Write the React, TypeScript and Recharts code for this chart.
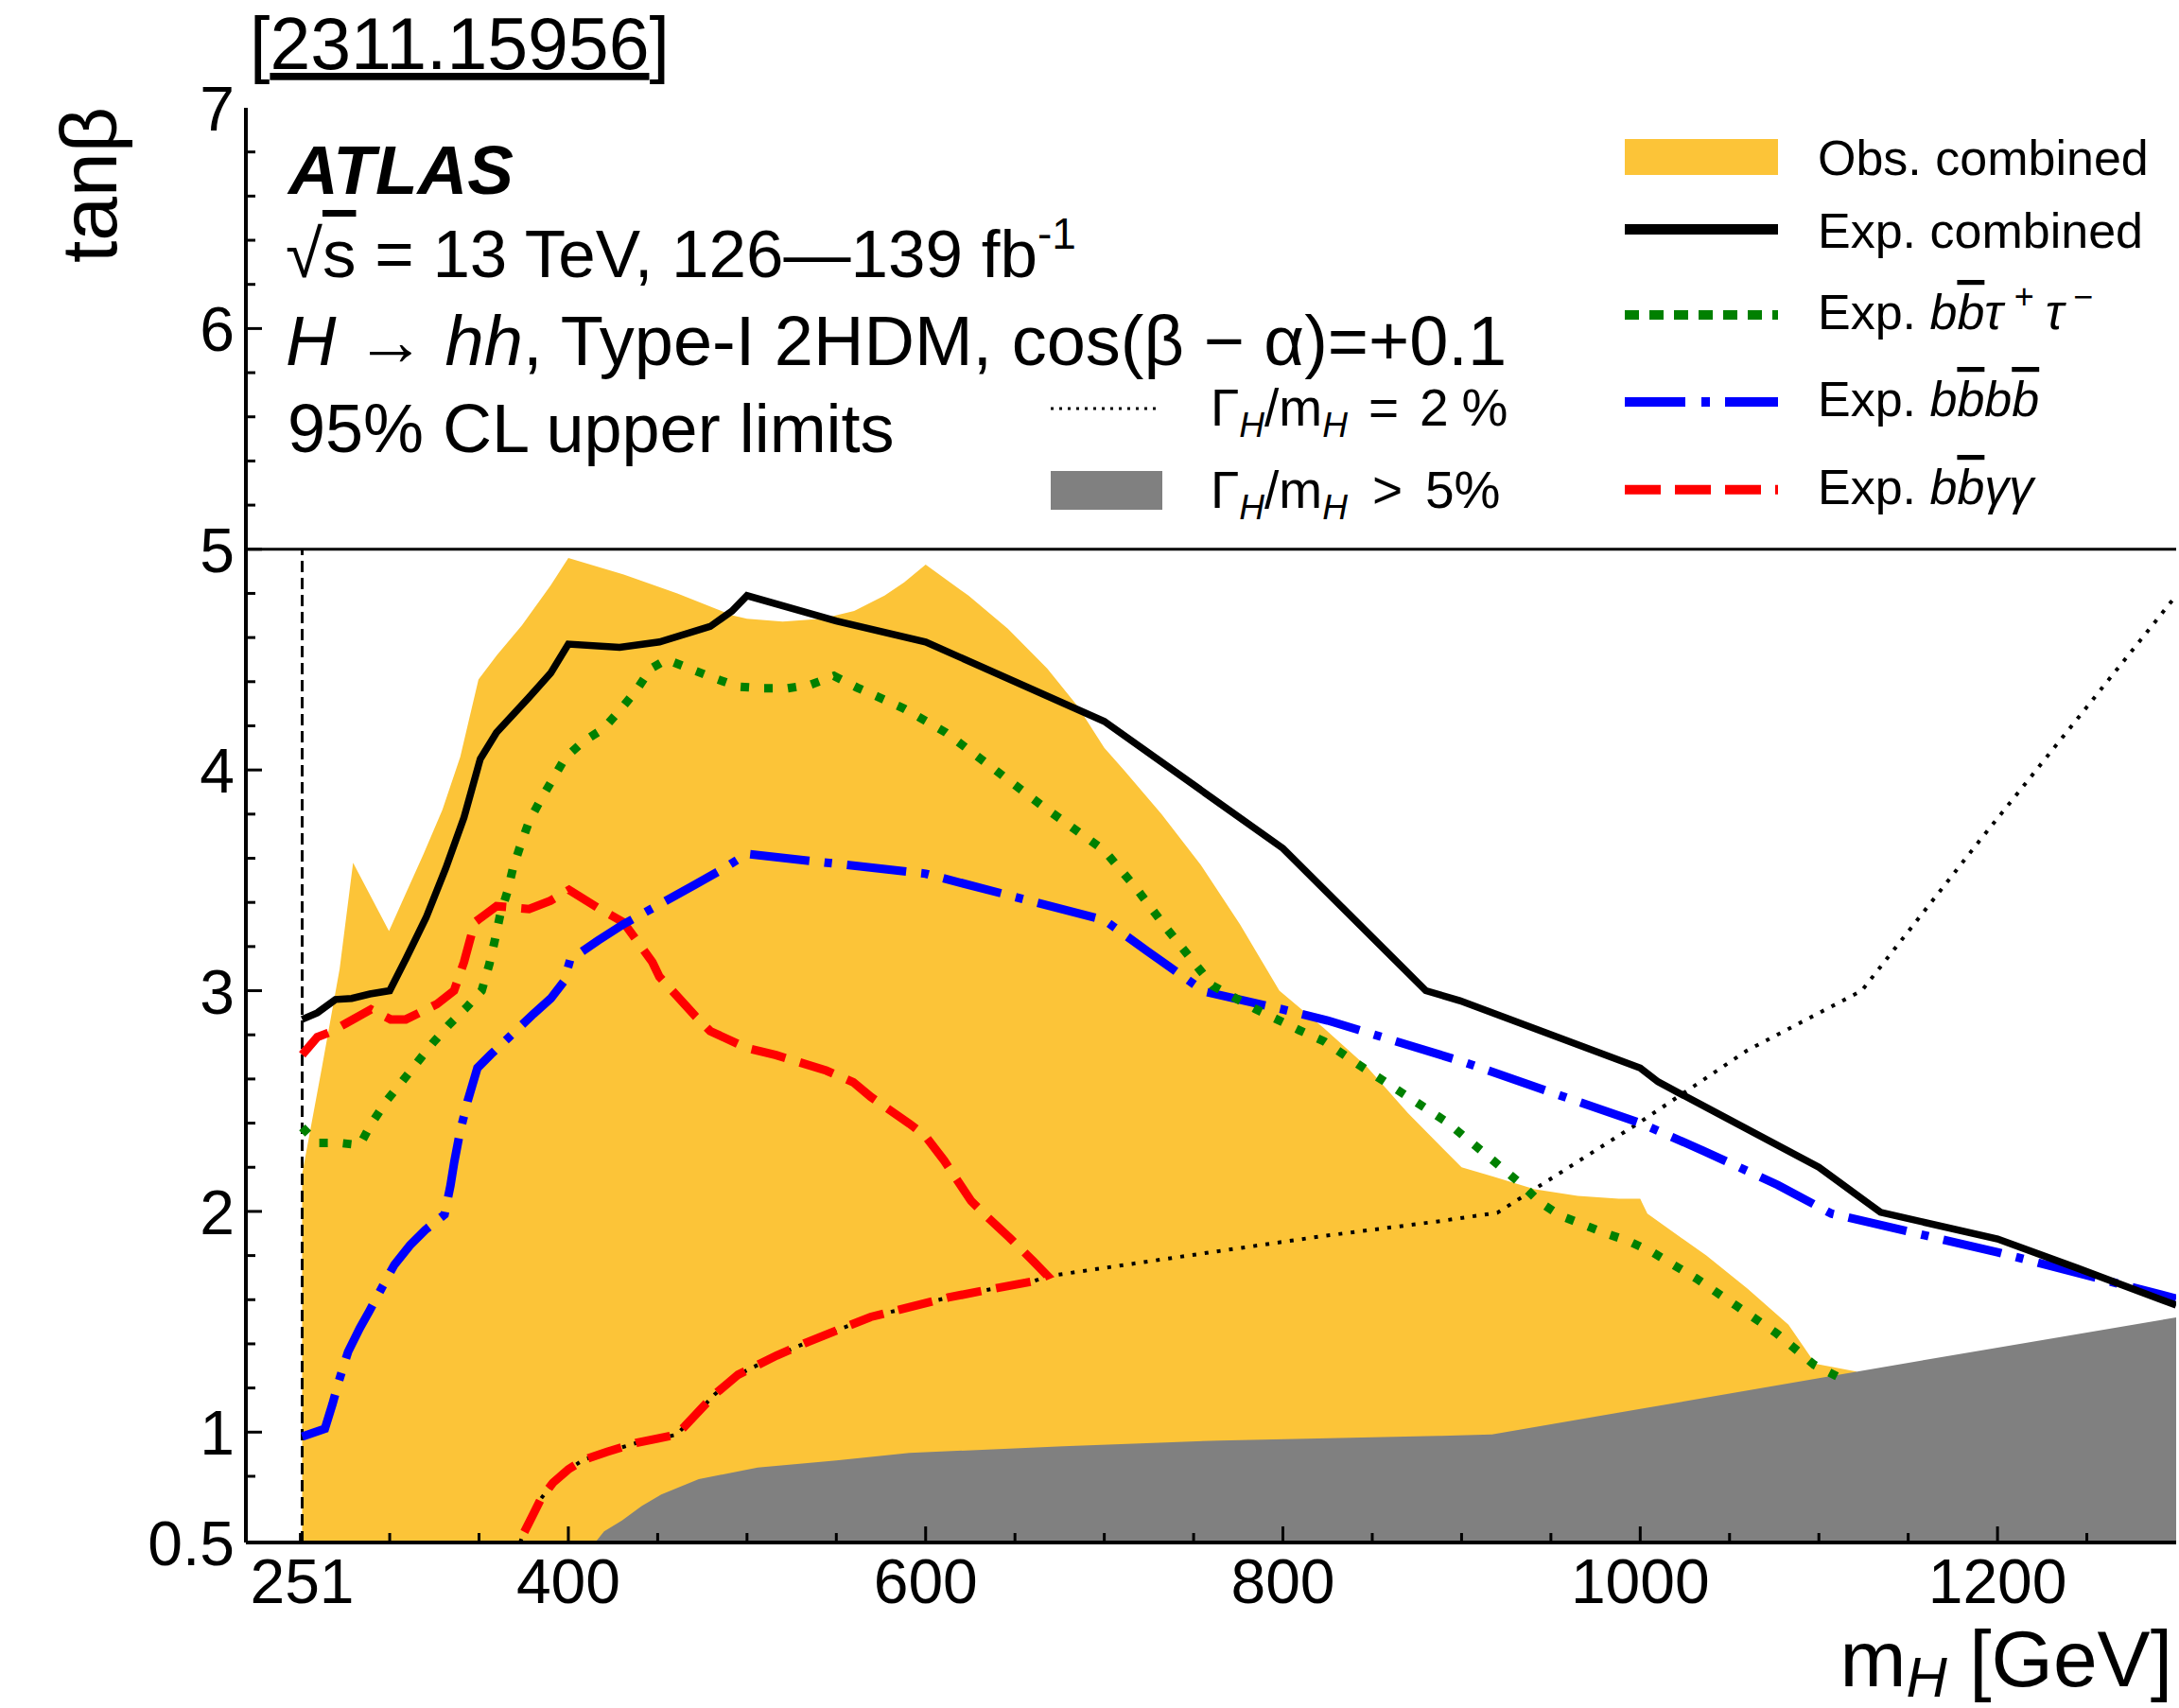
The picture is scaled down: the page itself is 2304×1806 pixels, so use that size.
import { ComposedChart, Area, Line, XAxis, YAxis, ReferenceLine } from "recharts";

const W = 2304;
const H = 1806;
const FONT = '"Liberation Sans", Arial, Helvetica, sans-serif';

const OBS_COLOR = "#fcc438";
const GRAY = "#808080";

// axis ticks
const xLabelTicks = [251, 400, 600, 800, 1000, 1200];
const xMajorTicks = [400, 600, 800, 1000, 1200];
const xMinorTicks = [250, 300, 350, 450, 500, 550, 650, 700, 750, 850, 900, 950, 1050, 1100, 1150, 1250];
const yLabelTicks = [0.5, 1, 2, 3, 4, 5, 6, 7];
const yMajorTicks = [1, 2, 3, 4, 5, 6];
const yMinorTicks = [0.8, 1.2, 1.4, 1.6, 1.8, 2.2, 2.4, 2.6, 2.8, 3.2, 3.4, 3.6, 3.8, 4.2, 4.4, 4.6, 4.8, 5.2, 5.4, 5.6, 5.8, 6.2, 6.4, 6.6, 6.8];

// [mH (GeV), tanβ]
const obsCombined = [
  [251, 2.17], [262, 2.65], [272, 3.1], [279.5, 3.58], [299.6, 3.27], [309, 3.44], [319, 3.62], [329.5, 3.82],
  [339.5, 4.06], [349.7, 4.41], [360, 4.52], [374, 4.655], [390, 4.835], [400, 4.96], [431, 4.885], [461, 4.8],
  [492, 4.7], [500, 4.685], [520, 4.672], [542, 4.685], [560, 4.72], [577, 4.79], [588, 4.85], [600, 4.93],
  [624, 4.79], [646, 4.64], [668, 4.46], [685, 4.29], [700, 4.1], [711, 4.0], [732, 3.8], [754, 3.57], [776, 3.3],
  [798, 3.0], [823, 2.83], [847, 2.655], [870, 2.445], [900, 2.2], [918, 2.157], [941, 2.1], [965, 2.07],
  [988, 2.057], [1000, 2.057], [1004, 1.99], [1037, 1.8], [1060, 1.65], [1083, 1.487], [1098, 1.31], [1121, 1.275],
];

const wideWidth = [
  [415, 0.5], [420, 0.55], [430, 0.6], [441, 0.665], [452, 0.717], [473, 0.787], [506, 0.84], [550, 0.872],
  [591, 0.906], [677, 0.936], [764, 0.962], [887, 0.983], [917, 0.99], [1000, 1.105], [1100, 1.245],
  [1200, 1.383], [1300, 1.52],
];

const expCombined = [
  [251, 2.87], [259.5, 2.9], [269.6, 2.96], [278.7, 2.965], [288.9, 2.985], [300, 3.0], [309.1, 3.145],
  [320.3, 3.33], [331.4, 3.555], [341.6, 3.785], [350.7, 4.05], [359.8, 4.17], [378.1, 4.33], [390.2, 4.44],
  [400, 4.57], [428.7, 4.556], [451, 4.58], [479.4, 4.65], [491.6, 4.72], [500, 4.79], [550, 4.675],
  [600, 4.58], [700, 4.22], [800, 3.645], [880, 3.0], [899, 2.955], [1000, 2.65], [1010, 2.587],
  [1100, 2.2], [1134.5, 1.996], [1200, 1.875], [1245, 1.742], [1300, 1.575],
];

const expBbTauTau = [
  [251, 2.38], [259.4, 2.31], [272.4, 2.31], [283.2, 2.3], [289.7, 2.397], [298.3, 2.502], [307, 2.589],
  [315.6, 2.677], [324.2, 2.764], [332.9, 2.843], [342.6, 2.921], [351.5, 3.0], [355.8, 3.121], [358.8, 3.227],
  [361.8, 3.342], [365.9, 3.449], [369, 3.555], [373, 3.654], [378.1, 3.769], [384.1, 3.859], [391.2, 3.957],
  [398.3, 4.056], [408.5, 4.13], [419.6, 4.187], [428.7, 4.269], [437.9, 4.359], [446, 4.458], [455, 4.5],
  [468.3, 4.458], [481.4, 4.417], [494.7, 4.378], [508.8, 4.37], [522.8, 4.37], [535.8, 4.387], [548.7, 4.426],
  [561.7, 4.373], [587.7, 4.279], [611.4, 4.169], [633, 4.037], [665.5, 3.836], [700, 3.635], [717.4, 3.469],
  [734.6, 3.285], [752, 3.11], [760.6, 3.023], [784.4, 2.918], [809.2, 2.821], [823.1, 2.77], [844.4, 2.654],
  [868, 2.53], [891.7, 2.405], [913, 2.262], [934.2, 2.118], [943.7, 2.042], [955.5, 1.98], [981.5, 1.898],
  [993.4, 1.866], [1007.5, 1.812], [1031.2, 1.697], [1053.7, 1.573], [1076.1, 1.449], [1097.4, 1.305],
  [1112, 1.245],
];

const expBbbb = [
  [251, 0.98], [263.7, 1.015], [268, 1.128], [271.3, 1.225], [276.7, 1.364], [283.2, 1.47], [288.6, 1.548],
  [296.1, 1.662], [302.6, 1.758], [311.3, 1.846], [319.9, 1.916], [330.7, 1.986], [334, 2.117], [336.1, 2.222],
  [339.4, 2.362], [343.7, 2.502], [349.1, 2.65], [356.7, 2.712], [380.5, 2.895], [390.2, 2.965], [397.7, 3.044],
  [401, 3.14], [416.6, 3.227], [430.8, 3.301], [451, 3.391], [471.3, 3.482], [485.5, 3.547], [500, 3.62],
  [600, 3.53], [700, 3.32], [724, 3.18], [756, 2.996], [800, 2.915], [825, 2.865], [900, 2.68], [1000, 2.4],
  [1035, 2.276], [1077, 2.12], [1107, 1.99], [1200, 1.815], [1300, 1.605],
];

const expBbGamGam = [
  [251, 2.71], [259.5, 2.79], [266, 2.81], [275.6, 2.852], [289.5, 2.915], [300.5, 2.87], [309, 2.87],
  [326.4, 2.939], [336, 3.0], [341.6, 3.13], [347.6, 3.31], [359.8, 3.383], [378, 3.37], [390, 3.408],
  [400.4, 3.457], [416.6, 3.375], [430.8, 3.31], [447, 3.13], [451, 3.063], [471.3, 2.883], [479.4, 2.817],
  [500, 2.74], [516.3, 2.708], [544.4, 2.638], [559.5, 2.585], [569.3, 2.519], [591, 2.397], [599.6, 2.344],
  [610.4, 2.23], [625.5, 2.047], [634.2, 1.977], [647.1, 1.88], [660.1, 1.776], [668, 1.71], [660.1, 1.683],
  [634.2, 1.644], [612.6, 1.61], [591, 1.566], [569.3, 1.522], [553, 1.47], [533.9, 1.408], [516.6, 1.347],
  [495, 1.26], [482, 1.172], [464.8, 1.023], [460.4, 0.988], [438.8, 0.953], [421.5, 0.91], [408.6, 0.875],
  [399.9, 0.831], [391.3, 0.77], [384.8, 0.7], [379.4, 0.612], [375, 0.542], [373, 0.5],
];

const width2pct = [
  [373, 0.5], [375, 0.542], [379.4, 0.612], [384.8, 0.7], [391.3, 0.77], [399.9, 0.831], [408.6, 0.875],
  [421.5, 0.91], [438.8, 0.953], [460.4, 0.988], [464.8, 1.023], [482, 1.172], [495, 1.26], [516.6, 1.347],
  [533.9, 1.408], [553, 1.47], [569.3, 1.522], [591, 1.566], [612.6, 1.61], [634.2, 1.644], [660.1, 1.683],
  [668, 1.706], [764, 1.82], [823, 1.889], [887, 1.955], [920, 1.994], [1000, 2.405], [1060, 2.73],
  [1124, 3.0], [1190, 3.68], [1300, 4.79],
];

const pts = (a: number[][]) => a.map(([x, y]) => ({ x, y }));

const tickPen = { stroke: "#000", strokeWidth: 3 };

function BottomTick(props: any) {
  const { x, y, payload } = props;
  const v = payload.value;
  const len = xMajorTicks.includes(v) ? 17 : xMinorTicks.includes(v) ? 10 : 0;
  return (
    <g>
      {len > 0 && <line x1={x} x2={x} y1={y} y2={y - len} {...tickPen} />}
      {xLabelTicks.includes(v) && (
        <text x={x} y={y + 64} textAnchor="middle" fontSize={66} fontFamily={FONT} fill="#000">
          {v}
        </text>
      )}
    </g>
  );
}

function TopTick(props: any) {
  const { x, y, payload } = props;
  const v = payload.value;
  const len = xMajorTicks.includes(v) ? 17 : xMinorTicks.includes(v) ? 10 : 0;
  if (!len) return <g />;
  return <line x1={x} x2={x} y1={y} y2={y + len} {...tickPen} />;
}

function LeftTick(props: any) {
  const { x, y, payload } = props;
  const v = payload.value;
  const len = yMajorTicks.includes(v) ? 17 : yMinorTicks.includes(v) ? 10 : 0;
  return (
    <g>
      {len > 0 && <line x1={x} x2={x + len} y1={y} y2={y} {...tickPen} />}
      {yLabelTicks.includes(v) && (
        <text x={x - 12} y={y + 24} textAnchor="end" fontSize={66} fontFamily={FONT} fill="#000">
          {v}
        </text>
      )}
    </g>
  );
}

function RightTick(props: any) {
  const { x, y, payload } = props;
  const v = payload.value;
  const len = yMajorTicks.includes(v) ? 17 : yMinorTicks.includes(v) ? 10 : 0;
  if (!len) return <g />;
  return <line x1={x} x2={x - len} y1={y} y2={y} {...tickPen} />;
}

const xTicks = [...xMinorTicks, ...xLabelTicks].sort((a, b) => a - b);
const yTicks = [...yMinorTicks, ...yLabelTicks].sort((a, b) => a - b);
const xDomain = [219.5, 1300];
const yDomain = [0.5, 7];
const frame = { stroke: "#000", strokeWidth: 4 };

function Annotations() {
  const t = { fontFamily: FONT, fill: "#000" };
  const legText = 52;
  return (
    <svg width={W} height={H} style={{ position: "absolute", left: 0, top: 0, pointerEvents: "none" }}>
      <text x={264} y={73} fontSize={77} {...t}>
        [<tspan textDecoration="underline">2311.15956</tspan>]
      </text>
      <text transform="translate(123,113) rotate(-90)" textAnchor="end" fontSize={84} {...t}>
        tanβ
      </text>
      <text x={2297} y={1783} textAnchor="end" fontSize={84} {...t}>
        m<tspan fontSize={60} fontStyle="italic" dy={11}>H</tspan>
        <tspan dy={-11}> [GeV]</tspan>
      </text>

      <text x={305} y={205} fontSize={73} fontWeight="bold" fontStyle="italic" {...t}>ATLAS</text>
      <text x={302} y={293} fontSize={71} {...t}>
        √<tspan textDecoration="overline">s</tspan> = 13 TeV, 126—139 fb
        <tspan fontSize={46} dy={-30}>-1</tspan>
      </text>
      <text x={302} y={386} fontSize={74} {...t}>
        <tspan fontStyle="italic">H</tspan> → <tspan fontStyle="italic">hh</tspan>, Type-I 2HDM, cos(β − α)=+0.1
      </text>
      <text x={304} y={478} fontSize={72} {...t}>95% CL upper limits</text>

      {/* left legend column */}
      <line x1={1111} x2={1227} y1={432} y2={432} stroke="#000" strokeWidth={3} strokeDasharray="3 6" />
      <text x={1280} y={450} fontSize={55} {...t}>
        Γ<tspan fontSize={37} fontStyle="italic" dy={12}>H</tspan>
        <tspan dy={-12}>/m</tspan>
        <tspan fontSize={37} fontStyle="italic" dy={12}>H</tspan>
        <tspan dy={-12} dx={22}>=</tspan>
        <tspan dx={22}>2</tspan>
        <tspan dx={14}>%</tspan>
      </text>
      <rect x={1111} y={498} width={118} height={41} fill={GRAY} />
      <text x={1280} y={537} fontSize={55} {...t}>
        Γ<tspan fontSize={37} fontStyle="italic" dy={12}>H</tspan>
        <tspan dy={-12}>/m</tspan>
        <tspan fontSize={37} fontStyle="italic" dy={12}>H</tspan>
        <tspan dy={-12} dx={26}>&gt;</tspan>
        <tspan dx={24}>5%</tspan>
      </text>

      {/* right legend column */}
      <rect x={1718} y={147} width={162} height={38} fill={OBS_COLOR} />
      <text x={1922} y={185} fontSize={legText} {...t}>Obs. combined</text>
      <line x1={1718} x2={1880} y1={242.5} y2={242.5} stroke="#000" strokeWidth={11} />
      <text x={1922} y={262} fontSize={legText} {...t}>Exp. combined</text>
      <line x1={1718} x2={1880} y1={333} y2={333} stroke="#008000" strokeWidth={10} strokeDasharray="15 11" />
      <text x={1922} y={348} fontSize={legText} {...t}>
        Exp. <tspan fontStyle="italic">b</tspan>
        <tspan fontStyle="italic" textDecoration="overline">b</tspan>
        <tspan fontStyle="italic">τ</tspan>
        <tspan fontSize={36} dy={-22} dx={12}>+</tspan>
        <tspan dy={22} dx={12} fontStyle="italic">τ</tspan>
        <tspan fontSize={36} dy={-22} dx={10}>−</tspan>
      </text>
      <line x1={1718} x2={1880} y1={425} y2={425} stroke="#0000ff" strokeWidth={10} strokeDasharray="64 17 9 16" />
      <text x={1922} y={440} fontSize={legText} {...t}>
        Exp. <tspan fontStyle="italic">b</tspan>
        <tspan fontStyle="italic" textDecoration="overline">b</tspan>
        <tspan fontStyle="italic">b</tspan>
        <tspan fontStyle="italic" textDecoration="overline">b</tspan>
      </text>
      <line x1={1718} x2={1880} y1={517.7} y2={517.7} stroke="#ff0000" strokeWidth={10} strokeDasharray="38 15" />
      <text x={1922} y={533} fontSize={legText} {...t}>
        Exp. <tspan fontStyle="italic">b</tspan>
        <tspan fontStyle="italic" textDecoration="overline">b</tspan>
        <tspan fontStyle="italic">γγ</tspan>
      </text>
    </svg>
  );
}

export default function App() {
  return (
    <div style={{ position: "relative", width: W, height: H, background: "#fff" }}>
      <style>{"body{margin:0}"}</style>
      <ComposedChart width={W} height={H} margin={{ top: 114, right: 3, bottom: 0, left: 0 }}>
        <XAxis
          xAxisId={0}
          type="number"
          dataKey="x"
          domain={xDomain}
          allowDataOverflow
          ticks={xTicks}
          interval={0}
          height={175}
          tickSize={0}
          tickMargin={0}
          tickLine={false}
          axisLine={frame}
          tick={BottomTick}
        />
        <XAxis
          xAxisId="top"
          orientation="top"
          type="number"
          dataKey="x"
          domain={xDomain}
          allowDataOverflow
          ticks={xTicks}
          interval={0}
          height={0}
          tickSize={0}
          tickMargin={0}
          tickLine={false}
          axisLine={frame}
          tick={TopTick}
        />
        <YAxis
          yAxisId={0}
          type="number"
          domain={yDomain}
          allowDataOverflow
          ticks={yTicks}
          interval={0}
          width={260}
          tickSize={0}
          tickMargin={0}
          tickLine={false}
          axisLine={frame}
          tick={LeftTick}
        />
        <YAxis
          yAxisId="right"
          orientation="right"
          type="number"
          domain={yDomain}
          allowDataOverflow
          ticks={yTicks}
          interval={0}
          width={0}
          tickSize={0}
          tickMargin={0}
          tickLine={false}
          axisLine={frame}
          tick={RightTick}
        />

        <Area
          data={pts(obsCombined)}
          dataKey="y"
          type="linear"
          baseValue={0.5}
          fill={OBS_COLOR}
          fillOpacity={1}
          stroke="none"
          isAnimationActive={false}
          activeDot={false}
        />
        <Area
          data={pts(wideWidth)}
          dataKey="y"
          type="linear"
          baseValue={0.5}
          fill={GRAY}
          fillOpacity={1}
          stroke="none"
          isAnimationActive={false}
          activeDot={false}
        />
        <ReferenceLine
          segment={[{ x: 251, y: 0.5 }, { x: 251, y: 5 }]}
          stroke="#000"
          strokeWidth={3}
          strokeDasharray="12 6"
        />
        <Line data={pts(width2pct)} dataKey="y" type="linear" stroke="#000" strokeWidth={4} strokeDasharray="4 9" dot={false} activeDot={false} isAnimationActive={false} />
        <Line data={pts(expBbGamGam)} dataKey="y" type="linear" stroke="#ff0000" strokeWidth={9} strokeDasharray="37 16" dot={false} activeDot={false} isAnimationActive={false} />
        <Line data={pts(expBbbb)} dataKey="y" type="linear" stroke="#0000ff" strokeWidth={9} strokeDasharray="63 16 8 16" dot={false} activeDot={false} isAnimationActive={false} />
        <Line data={pts(expBbTauTau)} dataKey="y" type="linear" stroke="#008000" strokeWidth={9} strokeDasharray="9 16" dot={false} activeDot={false} isAnimationActive={false} />
        <Line data={pts(expCombined)} dataKey="y" type="linear" stroke="#000" strokeWidth={7.5} dot={false} activeDot={false} isAnimationActive={false} />
        <ReferenceLine y={5} stroke="#000" strokeWidth={3} />
      </ComposedChart>
      <Annotations />
    </div>
  );
}
